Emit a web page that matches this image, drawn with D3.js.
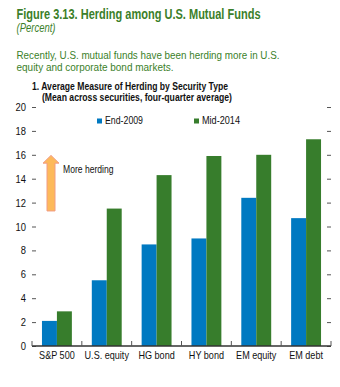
<!DOCTYPE html>
<html>
<head>
<meta charset="utf-8">
<script src="https://cdn.jsdelivr.net/npm/d3@7"></script>
<style>
  body { margin: 0; background: #fff; }
  svg { display: block; font-family: "Liberation Sans", Arial, sans-serif; }
</style>
</head>
<body>
<div id="chart"></div>
<script>
// herding measure by security type, percent
const categories = ['S&P 500', 'U.S. equity', 'HG bond', 'HY bond', 'EM equity', 'EM debt'];
const seriesNames = ['End-2009', 'Mid-2014'];
const end2009 = [2.1, 5.5, 8.5, 9.0, 12.4, 10.7];
const mid2014 = [2.9, 11.5, 14.3, 15.9, 16.0, 17.3];
const yTicks = [0, 2, 4, 6, 8, 10, 12, 14, 16, 18, 20];

const width = 340, height = 387;
const margin = { top: 107, right: 9, bottom: 41, left: 32 };
const colors = ['#0079c1', '#377d2c'];
const titleGreen = '#3b7f2a';
const narrow = 0.84; // condensed look from a regular face

const svg = d3.select('#chart').append('svg')
  .attr('width', width)
  .attr('height', height);

// squash text horizontally, either to a given width or by the narrow factor
function squeeze(sel, w) {
  sel.each(function () {
    const len = w || this.getComputedTextLength() * narrow;
    d3.select(this).attr('textLength', len).attr('lengthAdjust', 'spacingAndGlyphs');
  });
  return sel;
}

function label(x, y, txt, size, opts = {}) {
  const t = svg.append('text')
    .attr('x', x).attr('y', y)
    .attr('font-size', size)
    .attr('fill', opts.fill || '#111')
    .attr('font-weight', opts.bold ? 'bold' : null)
    .attr('font-style', opts.italic ? 'italic' : null)
    .text(txt);
  return squeeze(t, opts.w);
}

// heading block
label(16.5, 19, 'Figure 3.13. Herding among U.S. Mutual Funds', 13.8, { fill: titleGreen, bold: true, w: 244 });
label(16.5, 31.5, '(Percent)', 12, { fill: titleGreen, italic: true, w: 39 });
label(16.5, 58.5, 'Recently, U.S. mutual funds have been herding more in U.S.', 11.6, { fill: titleGreen, w: 263 });
label(16.5, 71, 'equity and corporate bond markets.', 11.6, { fill: titleGreen, w: 157 });
label(32, 90, '1. Average Measure of Herding by Security Type', 10.8, { bold: true, w: 196 });
label(42, 101, '(Mean across securities, four-quarter average)', 10.8, { bold: true, w: 190 });

const x0 = d3.scaleBand()
  .domain(categories)
  .range([margin.left, width - margin.right]);

const x1 = d3.scaleBand()
  .domain(seriesNames)
  .range([x0.bandwidth() * 0.2, x0.bandwidth() * 0.8]);

const y = d3.scaleLinear()
  .domain([0, 20])
  .range([height - margin.bottom, margin.top]);

const rows = categories.map((c, i) => ({ cat: c, values: [end2009[i], mid2014[i]] }));

const groups = svg.append('g').selectAll('g')
  .data(rows)
  .enter().append('g')
  .attr('transform', d => `translate(${x0(d.cat)},0)`);

groups.selectAll('rect')
  .data(d => d.values.map((v, i) => ({ key: seriesNames[i], value: v, i })))
  .enter().append('rect')
  .attr('x', d => x1(d.key))
  .attr('width', x1.bandwidth())
  .attr('y', d => y(d.value))
  .attr('height', d => y(0) - y(d.value))
  .attr('fill', d => colors[d.i]);

// left axis: short inward ticks, labels set outside
const left = svg.append('g')
  .attr('transform', `translate(${margin.left},0)`)
  .call(d3.axisRight(y).tickValues(yTicks).tickSize(4).tickFormat(''));
left.select('.domain').remove();
left.selectAll('line').attr('stroke', '#555');
squeeze(svg.append('g').selectAll('text')
  .data(yTicks)
  .enter().append('text')
  .attr('x', 26).attr('y', d => y(d) + 4)
  .attr('text-anchor', 'end')
  .attr('font-size', 11.2)
  .attr('fill', '#111')
  .text(d => d));

// right axis ticks
const right = svg.append('g')
  .attr('transform', `translate(${width - margin.right},0)`)
  .call(d3.axisLeft(y).tickValues(yTicks).tickSize(4).tickFormat(''));
right.select('.domain').remove();
right.selectAll('line').attr('stroke', '#555');

// category axis
const bottom = svg.append('g')
  .attr('transform', `translate(0,${y(0)})`);
bottom.append('line')
  .attr('x1', margin.left).attr('x2', width - margin.right)
  .attr('stroke', '#333').attr('stroke-width', 1.5);
bottom.selectAll('line.sep')
  .data(categories.map(c => x0(c)).concat([width - margin.right]))
  .enter().append('line')
  .attr('x1', d => d).attr('x2', d => d)
  .attr('y1', 0).attr('y2', -5)
  .attr('stroke', '#555');
squeeze(bottom.selectAll('text')
  .data(categories)
  .enter().append('text')
  .attr('x', d => x0(d) + x0.bandwidth() / 2)
  .attr('y', 13)
  .attr('text-anchor', 'middle')
  .attr('font-size', 10.8)
  .attr('fill', '#111')
  .text(d => d));

// legend
const legendX = [97, 194];
const legend = svg.append('g').selectAll('g')
  .data(seriesNames)
  .enter().append('g')
  .attr('transform', (d, i) => `translate(${legendX[i]},118.5)`);
legend.append('rect')
  .attr('width', 5).attr('height', 5)
  .attr('fill', (d, i) => colors[i]);
squeeze(legend.append('text')
  .attr('x', 8).attr('y', 5.5)
  .attr('font-size', 10.5).attr('fill', '#111')
  .text(d => d), 38);

// arrow annotation
const ax = 51, tipY = y(15.95), headY = y(15.3), baseY = y(11.3);
svg.append('path')
  .attr('d', `M${ax},${tipY} L${ax + 8},${headY} L${ax + 4},${headY} L${ax + 4},${baseY} ` +
    `L${ax - 4},${baseY} L${ax - 4},${headY} L${ax - 8},${headY} Z`)
  .attr('fill', '#fdb95a')
  .attr('stroke', '#f19c84')
  .attr('stroke-width', 1);
label(63, 173, 'More herding', 10.8, { w: 50.5 });
</script>
</body>
</html>
